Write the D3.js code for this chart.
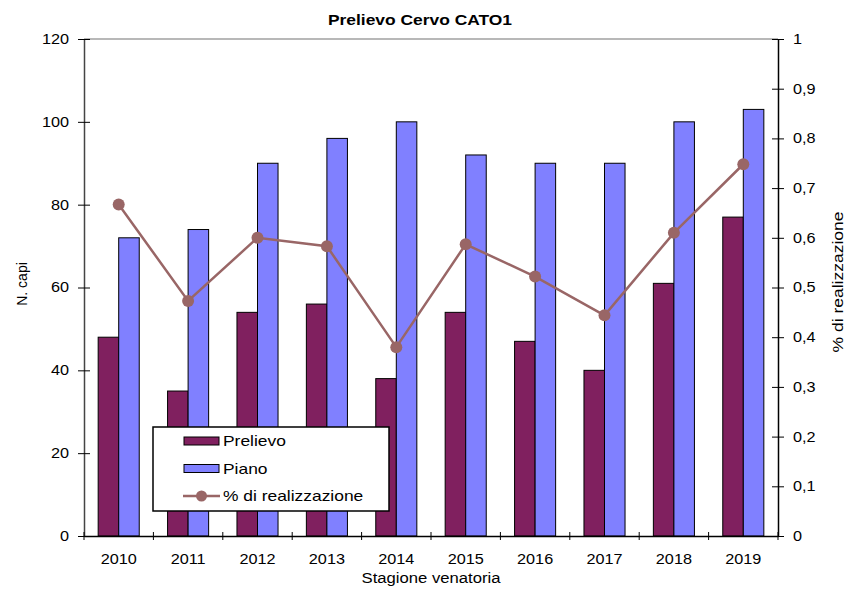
<!DOCTYPE html>
<html>
<head>
<meta charset="utf-8">
<script src="https://cdn.jsdelivr.net/npm/d3@7"></script>
<style>
  body { margin: 0; background: #fff; }
  text { font-family: "Liberation Sans", Arial, sans-serif; fill: #000; }
</style>
</head>
<body>
<div id="chart"></div>
<script>
// data
var years = ["2010", "2011", "2012", "2013", "2014", "2015", "2016", "2017", "2018", "2019"];
var prelievo = [48, 35, 54, 56, 38, 54, 47, 40, 61, 77];
var piano = [72, 74, 90, 96, 100, 92, 90, 90, 100, 103];
var realizzazione = [0.667, 0.473, 0.6, 0.583, 0.38, 0.587, 0.522, 0.444, 0.61, 0.748];
var leftTicks = [0, 20, 40, 60, 80, 100, 120];
var rightTicks = [0, 0.1, 0.2, 0.3, 0.4, 0.5, 0.6, 0.7, 0.8, 0.9, 1];
var seriesNames = ["Prelievo", "Piano"];

var svgWidth = 845;
var svgHeight = 589;
var margin = { top: 39, right: 67, bottom: 53, left: 84 };
var width = svgWidth - margin.left - margin.right;
var height = svgHeight - margin.top - margin.bottom;

var colors = { Prelievo: "#80205f", Piano: "#8080ff" };
var lineColor = "#996666";
var font = "Liberation Sans, Arial, sans-serif";

// the original text is a bit wider than Arial, widen glyphs a little
function widen(sel, k) {
  sel.each(function() {
    var len = this.getComputedTextLength();
    this.setAttribute("textLength", len * k);
    this.setAttribute("lengthAdjust", "spacingAndGlyphs");
  });
}

var svg = d3.select("#chart")
  .append("svg")
  .attr("width", svgWidth)
  .attr("height", svgHeight);

var chartGroup = svg.append("g")
  .attr("transform", `translate(${margin.left}, ${margin.top})`);

var x0 = d3.scaleBand().domain(years).range([0, width]).padding(0);
var x1 = d3.scaleBand().domain(seriesNames).range([0, x0.bandwidth()]).paddingOuter(0.69).paddingInner(0);
var yLeft = d3.scaleLinear().domain([0, 120]).range([height, 0]);
var yRight = d3.scaleLinear().domain([0, 1]).range([height, 0]);

// top border of plot area
chartGroup.append("line")
  .attr("x1", 0).attr("x2", width)
  .attr("y1", 0).attr("y2", 0)
  .attr("stroke", "#a0a0a0")
  .attr("stroke-width", 1.5);

// bars
var rows = years.map(function(y, i) {
  return { year: y, Prelievo: prelievo[i], Piano: piano[i] };
});

var groups = chartGroup.selectAll(".grp")
  .data(rows)
  .enter()
  .append("g")
  .attr("transform", d => `translate(${x0(d.year)}, 0)`);

groups.selectAll("rect")
  .data(d => seriesNames.map(k => ({ key: k, value: d[k] })))
  .enter()
  .append("rect")
  .attr("x", d => x1(d.key))
  .attr("y", d => yLeft(d.value))
  .attr("width", x1.bandwidth())
  .attr("height", d => height - yLeft(d.value))
  .attr("fill", d => colors[d.key])
  .attr("stroke", "#000")
  .attr("stroke-width", 1);

// axes
var leftAxis = d3.axisLeft(yLeft).tickValues(leftTicks).tickSizeInner(6).tickSizeOuter(0).tickPadding(9);
var rightAxis = d3.axisRight(yRight).tickValues(rightTicks).tickSizeInner(6).tickSizeOuter(0).tickPadding(9)
  .tickFormat(d => d === 0 || d === 1 ? d3.format("d")(d) : d3.format(".1f")(d).replace(".", ","));
var bottomAxis = d3.axisBottom(x0).tickSize(0).tickPadding(18);

var gl = chartGroup.append("g").call(leftAxis);
var gr = chartGroup.append("g").attr("transform", `translate(${width}, 0)`).call(rightAxis);
var gb = chartGroup.append("g").attr("transform", `translate(0, ${height})`).call(bottomAxis);

[gl, gr, gb].forEach(function(g) {
  g.selectAll("text").attr("font-size", "14px").attr("font-family", font).attr("fill", "#000");
  g.select(".domain").attr("stroke", "#000").attr("stroke-width", 1.5);
  widen(g.selectAll("text"), 1.16);
});
gl.select(".domain").attr("stroke", "#444");
// ticks cross the axis line
gl.selectAll(".tick line").attr("x1", 6).attr("x2", -6).attr("stroke", "#000");
gr.selectAll(".tick line").attr("x1", -6).attr("x2", 6).attr("stroke", "#000");

// category separator ticks
var boundaries = years.map(y => x0(y)).concat([width]);
gb.selectAll(".sep")
  .data(boundaries)
  .enter()
  .append("line")
  .attr("x1", d => d).attr("x2", d => d)
  .attr("y1", -4).attr("y2", 4)
  .attr("stroke", "#000");

// line series on right axis
var line = d3.line()
  .x((d, i) => x0(years[i]) + x0.bandwidth() / 2)
  .y(d => yRight(d));

chartGroup.append("path")
  .datum(realizzazione)
  .attr("d", line)
  .attr("fill", "none")
  .attr("stroke", lineColor)
  .attr("stroke-width", 2.5);

chartGroup.selectAll(".dot")
  .data(realizzazione)
  .enter()
  .append("circle")
  .attr("cx", (d, i) => x0(years[i]) + x0.bandwidth() / 2)
  .attr("cy", d => yRight(d))
  .attr("r", 6)
  .attr("fill", lineColor);

// title and axis labels
svg.append("text")
  .attr("x", 420).attr("y", 25)
  .attr("text-anchor", "middle")
  .attr("font-size", "15px")
  .attr("font-weight", "bold")
  .text("Prelievo Cervo CATO1")
  .call(widen, 1.16);

svg.append("text")
  .attr("x", margin.left + width / 2).attr("y", 583)
  .attr("text-anchor", "middle")
  .attr("font-size", "14px")
  .text("Stagione venatoria")
  .call(widen, 1.19);

svg.append("text")
  .attr("transform", "translate(27, 284) rotate(-90)")
  .attr("text-anchor", "middle")
  .attr("font-size", "14px")
  .text("N. capi");

svg.append("text")
  .attr("transform", "translate(843, 282) rotate(-90)")
  .attr("text-anchor", "middle")
  .attr("font-size", "14px")
  .text("% di realizzazione")
  .call(widen, 1.25);

// legend
var legend = svg.append("g").attr("transform", "translate(153, 427)");
legend.append("rect")
  .attr("width", 236).attr("height", 84)
  .attr("fill", "#fff")
  .attr("stroke", "#000")
  .attr("stroke-width", 1.5);

var legendItems = [
  { name: "Prelievo", type: "bar" },
  { name: "Piano", type: "bar" },
  { name: "% di realizzazione", type: "line" }
];

var li = legend.selectAll(".li")
  .data(legendItems)
  .enter()
  .append("g")
  .attr("transform", (d, i) => `translate(0, ${14 + i * 27.5})`);

li.filter(d => d.type === "bar").append("rect")
  .attr("x", 31).attr("y", -4)
  .attr("width", 35).attr("height", 8)
  .attr("fill", d => colors[d.name])
  .attr("stroke", "#000");

li.filter(d => d.type === "line").append("line")
  .attr("x1", 30).attr("x2", 67)
  .attr("stroke", lineColor).attr("stroke-width", 2.5);
li.filter(d => d.type === "line").append("circle")
  .attr("cx", 48.5).attr("r", 5.5)
  .attr("fill", lineColor);

li.append("text")
  .attr("x", 70).attr("dy", "0.35em")
  .attr("font-size", "15px")
  .text(d => d.name)
  .call(widen, 1.16);
</script>
</body>
</html>
